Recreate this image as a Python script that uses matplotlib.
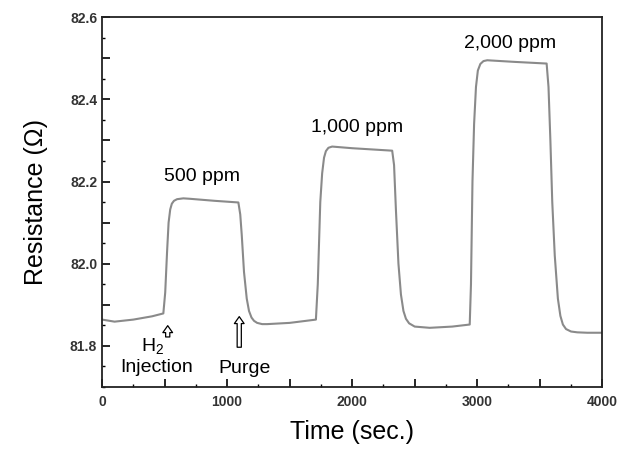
import matplotlib.pyplot as plt
from matplotlib.ticker import MultipleLocator

# sensor response
time_s = [0, 100, 250, 400, 490,
          505, 520, 532, 545, 558, 575, 600, 650, 700, 900, 1090,
          1105, 1117, 1135, 1157, 1175, 1195, 1215, 1240, 1280, 1320, 1500, 1710,
          1725, 1745, 1760, 1775, 1790, 1810, 1840, 2000, 2320,
          2335, 2350, 2370, 2390, 2410, 2430, 2455, 2500, 2620, 2800, 2940,
          2950, 2962, 2975, 2990, 3005, 3025, 3050, 3080, 3300, 3555,
          3570, 3585, 3600, 3620, 3645, 3665, 3685, 3710, 3750, 3800, 3880, 4000]
resistance = [81.864, 81.859, 81.864, 81.872, 81.879,
              81.93, 82.03, 82.10, 82.132, 82.146, 82.153, 82.157, 82.159, 82.158, 82.153, 82.149,
              82.12, 82.07, 81.98, 81.915, 81.885, 81.869, 81.861, 81.856, 81.853, 81.853, 81.856, 81.864,
              81.95, 82.15, 82.22, 82.258, 82.274, 82.282, 82.285, 82.281, 82.275,
              82.24, 82.13, 82.00, 81.925, 81.885, 81.866, 81.855, 81.847, 81.844, 81.847, 81.852,
              81.95, 82.2, 82.34, 82.43, 82.47, 82.486, 82.493, 82.495, 82.491, 82.487,
              82.43, 82.30, 82.15, 82.02, 81.915, 81.873, 81.852, 81.841, 81.835, 81.833, 81.832, 81.832]

conc_labels = ["500 ppm", "1,000 ppm", "2,000 ppm"]
conc_x = [800, 2040, 3265]
conc_y = [82.213, 82.332, 82.536]

y_ticks = [81.8, 81.9, 82.0, 82.1, 82.2, 82.3, 82.4, 82.5, 82.6]
y_labels = ["81.8", "", "82.0", "", "82.2", "", "82.4", "", "82.6"]
x_ticks = [0, 500, 1000, 1500, 2000, 2500, 3000, 3500, 4000]
x_labels = ["0", "", "1000", "", "2000", "", "3000", "", "4000"]

plt.rcParams['font.family'] = ['Liberation Sans', 'DejaVu Sans']
plt.rcParams['mathtext.default'] = 'regular'

fig = plt.figure(figsize=(6.3, 4.5), dpi=100)
ax = fig.add_axes([0.162, 0.14, 0.794, 0.822])

ax.plot(time_s, resistance, color='#8a8a8a', linewidth=1.5)

ax.set_xlim(0, 4000)
ax.set_ylim(81.7, 82.6)
ax.set_yticks(y_ticks)
ax.set_yticklabels(y_labels)
ax.set_xticks(x_ticks)
ax.set_xticklabels(x_labels)
ax.xaxis.set_minor_locator(MultipleLocator(250))
ax.yaxis.set_minor_locator(MultipleLocator(0.05))
ax.tick_params(which='major', direction='in', length=6, width=1.2,
               labelsize=10, labelcolor='#333333')
ax.tick_params(which='minor', direction='in', length=2.5, width=1)
for lab in ax.get_xticklabels() + ax.get_yticklabels():
    lab.set_fontweight('bold')
ax.tick_params(axis='x', pad=6)
for sp in ax.spines.values():
    sp.set_linewidth(1.3)
    sp.set_color('#222222')

ax.set_xlabel("Time (sec.)", fontsize=18, labelpad=8)
ax.set_ylabel("Resistance (Ω)", fontsize=18, labelpad=16)

for lab, x, y in zip(conc_labels, conc_x, conc_y):
    ax.text(x, y, lab, fontsize=14, ha='center', va='center')

ax.text(405, 81.800, "H$_2$", fontsize=14, ha='center', va='center')
ax.text(440, 81.748, "Injection", fontsize=14, ha='center', va='center')
ax.text(1140, 81.746, "Purge", fontsize=14, ha='center', va='center')

arrow_style = dict(arrowstyle='simple,head_width=0.7,head_length=0.5,tail_width=0.3',
                   fc='white', ec='black', lw=0.9)
ax.annotate("", xy=(525, 81.856), xytext=(525, 81.815), arrowprops=arrow_style)
ax.annotate("", xy=(1097, 81.878), xytext=(1097, 81.79), arrowprops=arrow_style)

fig.savefig("out.png", dpi=100)
